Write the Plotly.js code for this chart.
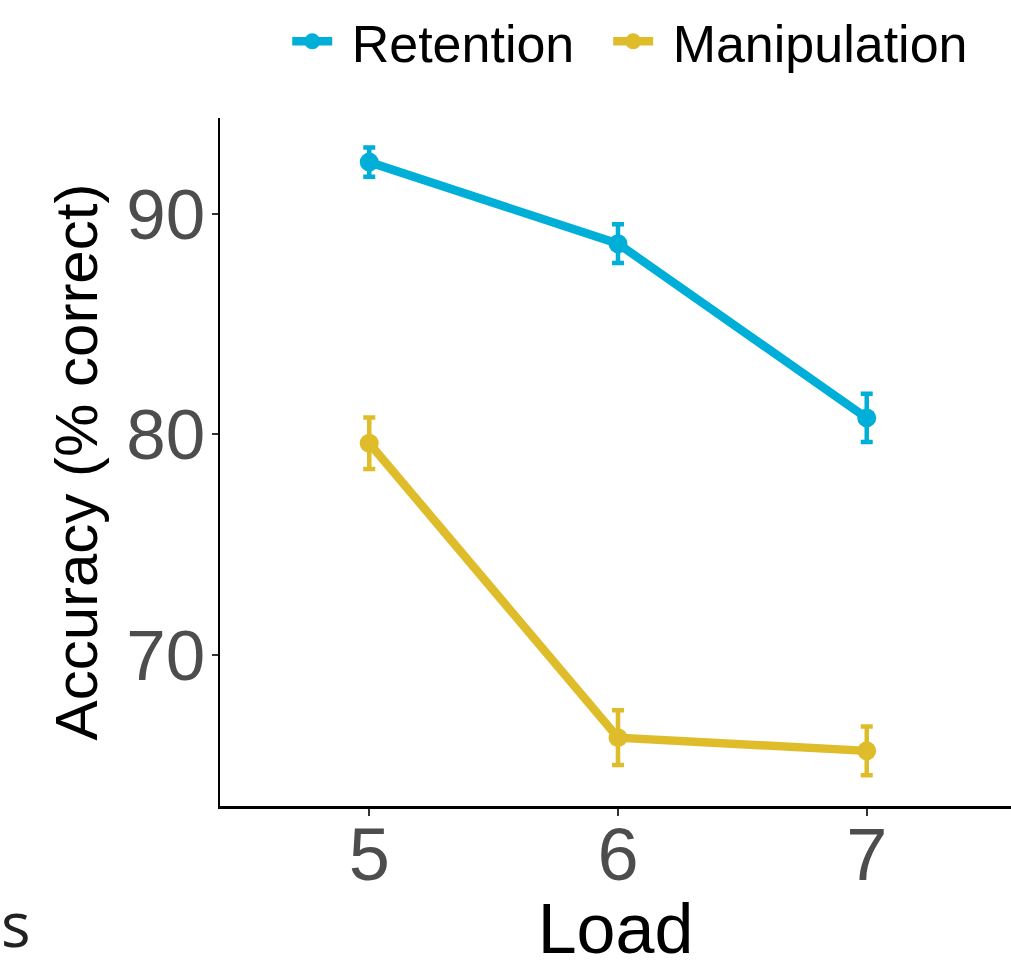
<!DOCTYPE html>
<html>
<head>
<meta charset="utf-8">
<script src="https://cdn.plot.ly/plotly-3.0.1.min.js"></script>
<style>html,body{margin:0;padding:0;overflow:hidden;background:#fff;}</style>
</head>
<body>
<div id="chart" style="width:1011px;height:968px;"></div>
<script>
const loads = [5, 6, 7];
const retentionMean = [92.35, 88.65, 80.75];
const retentionErr = [0.66, 0.88, 1.09];
const manipulationMean = [79.6, 66.25, 65.65];
const manipulationErr = [1.17, 1.24, 1.1];
const seriesNames = ['Retention', 'Manipulation'];
const yTicks = [70, 80, 90];

const colRet = 'rgb(0,175,215)';
const colMan = 'rgb(222,188,42)';

function trace(name, y, err, color, trail) {
  return {
    x: loads, y: y, name: '\u00a0' + name + trail, type: 'scatter', mode: 'lines+markers',
    line: {color: color, width: 8.5},
    marker: {color: color, size: 19},
    error_y: {type: 'data', array: err, visible: true, color: color, thickness: 4.5, width: 6}
  };
}

const data = [
  trace(seriesNames[0], retentionMean, retentionErr, colRet, '\u00a0\u00a0'),
  trace(seriesNames[1], manipulationMean, manipulationErr, colMan, '')
];

const layout = {
  width: 1011, height: 968,
  margin: {l: 220, r: 0, t: 118, b: 162},
  paper_bgcolor: '#fff', plot_bgcolor: '#fff',
  font: {family: 'Liberation Sans, Arial, sans-serif', color: '#000'},
  showlegend: true,
  legend: {orientation: 'h', x: 0.085, xanchor: 'left', y: 1.17, yanchor: 'top',
           font: {size: 52, color: '#000'}, itemwidth: 40, tracegroupgap: 0},
  xaxis: {
    range: [4.4, 7.58], tickvals: loads, ticktext: loads.map(String),
    showgrid: false, zeroline: false, showline: true, linecolor: '#000', linewidth: 2.5,
    ticks: 'outside', ticklen: 7, tickwidth: 2, tickcolor: '#333',
    tickfont: {size: 74, color: '#4d4d4d'}, ticklabelstandoff: -24,
    title: {text: 'Load', font: {size: 70, color: '#000'}, standoff: 8}
  },
  yaxis: {
    range: [63.15, 94.35], tickvals: yTicks, ticktext: yTicks.map(String),
    showgrid: false, zeroline: false, showline: true, linecolor: '#000', linewidth: 2.5,
    ticks: 'outside', ticklen: 6, tickwidth: 2, tickcolor: '#333',
    tickfont: {size: 71, color: '#4d4d4d'}, ticklabelstandoff: -8,
    title: {text: 'Accuracy (% correct)', font: {size: 60, color: '#000'}, standoff: 10}
  },
  annotations: [{
    text: 's', xref: 'paper', yref: 'paper', x: -0.28, xanchor: 'left',
    y: -0.17, yanchor: 'middle', showarrow: false,
    font: {size: 62, color: '#222', family: 'Open Sans, DejaVu Sans, sans-serif'}
  }]
};

Plotly.newPlot('chart', data, layout, {displayModeBar: false, staticPlot: true});
</script>
</body>
</html>
